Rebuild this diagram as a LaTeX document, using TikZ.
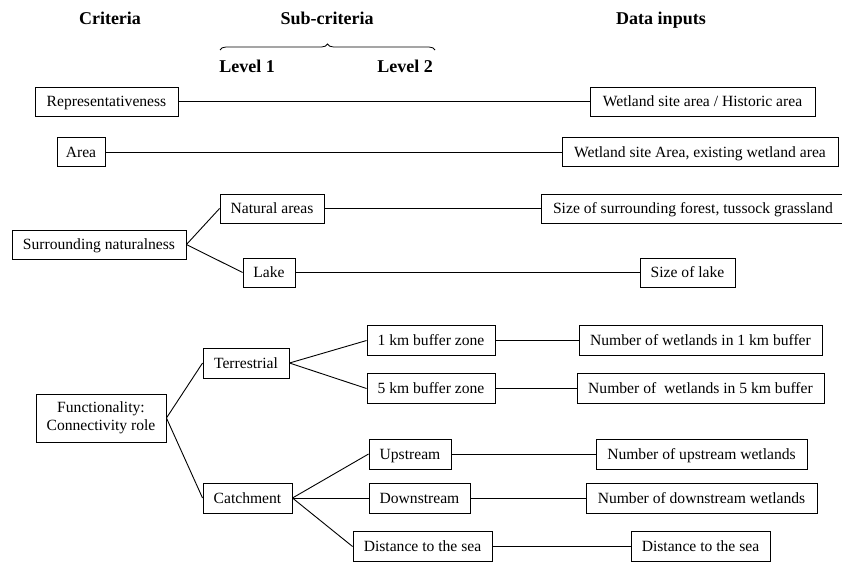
\documentclass[tikz,border=0pt]{standalone}
\usepackage{fontspec}
\setmainfont{Liberation Serif}
\usetikzlibrary{decorations.pathreplacing}
\begin{document}
\begin{tikzpicture}[x=1pt,y=-1pt]
\tikzstyle{box}=[draw, line width=0.9pt, minimum height=29pt, inner sep=2pt, text height=1.15em, text depth=0.1em, font=\fontsize{15.6}{17.5}\selectfont]
\tikzstyle{head}=[anchor=base, font=\fontsize{18}{20}\selectfont\bfseries]
\tikzstyle{link}=[line width=0.9pt]
    \useasboundingbox (0,0) rectangle (842,563);

    \node[head] (crit) at (110,24) {Criteria};
    \node[head] (sub) at (327,24) {Sub-criteria};
    \node[head] (data) at (661,24) {Data inputs};
    \node[head] (lev1) at (247,72) {Level 1};
    \node[head] (lev2) at (405,72) {Level 2};
    \draw[line width=0.8pt, decorate, decoration={brace, amplitude=6pt}] (220,50) -- (435,50);

    \node[box, minimum width=143pt] (rep) at (106.5,101.5) {Representativeness};
    \node[box, minimum width=225pt] (hist) at (702.5,101.5) {Wetland site area / Historic area};
    \node[box, minimum width=48pt] (area) at (81,152) {Area};
    \node[box, minimum width=276pt] (exist) at (700,152) {Wetland site Area, existing wetland area};

    \node[box, minimum width=174pt] (surr) at (99,244.5) {Surrounding naturalness};
    \node[box, minimum width=104pt] (nat) at (272,208.5) {Natural areas};
    \node[box, minimum width=52pt] (lake) at (269,272.5) {Lake};
    \node[box, minimum width=304pt] (forest) at (693,208.5) {Size of surrounding forest, tussock grassland};
    \node[box, minimum width=95pt] (lakesize) at (687.5,272.5) {Size of lake};

    \node[box, minimum width=130pt, minimum height=48pt, align=center, text height=, text depth=] (func) at (101,418) {Functionality:\\Connectivity role};
    \node[box, minimum width=86pt, minimum height=30pt] (terr) at (246,363) {Terrestrial};
    \node[box, minimum width=89pt, minimum height=30pt] (catch) at (247.5,498) {Catchment};
    \node[box, minimum width=128pt, minimum height=30pt] (buf1) at (431,340.5) {1 km buffer zone};
    \node[box, minimum width=128pt, minimum height=30pt] (buf5) at (431,388.5) {5 km buffer zone};
    \node[box, minimum width=82pt, minimum height=30pt] (up) at (410,454) {Upstream};
    \node[box, minimum width=101pt, minimum height=30pt] (down) at (419.5,498) {Downstream};
    \node[box, minimum width=139pt, minimum height=30pt] (sea) at (422.5,546.5) {Distance to the sea};
    \node[box, minimum width=243pt, minimum height=30pt] (wet1) at (700.5,340.5) {Number of wetlands in 1 km buffer};
    \node[box, minimum width=247pt, minimum height=30pt] (wet5) at (700.5,388.5) {Number of \ wetlands in 5 km buffer};
    \node[box, minimum width=211pt, minimum height=30pt] (wetup) at (701.5,454) {Number of upstream wetlands};
    \node[box, minimum width=231pt, minimum height=30pt] (wetdown) at (701.5,498) {Number of downstream wetlands};
    \node[box, minimum width=139pt, minimum height=30pt] (seadist) at (700.5,546.5) {Distance to the sea};

    \draw[link] (rep) -- (hist);
    \draw[link] (area) -- (exist);

    \draw[link] (surr.east) -- (nat.west);
    \draw[link] (surr.east) -- (lake.west);
    \draw[link] (nat) -- (forest);
    \draw[link] (lake) -- (lakesize);

    \draw[link] (func.east) -- (terr.west);
    \draw[link] (func.east) -- (catch.west);
    \draw[link] (terr.east) -- (buf1.west);
    \draw[link] (terr.east) -- (buf5.west);
    \draw[link] (catch.east) -- (up.west);
    \draw[link] (catch.east) -- (down.west);
    \draw[link] (catch.east) -- (sea.west);

    \draw[link] (buf1) -- (wet1);
    \draw[link] (buf5) -- (wet5);
    \draw[link] (up) -- (wetup);
    \draw[link] (down) -- (wetdown);
    \draw[link] (sea) -- (seadist);

\end{tikzpicture}
\end{document}
